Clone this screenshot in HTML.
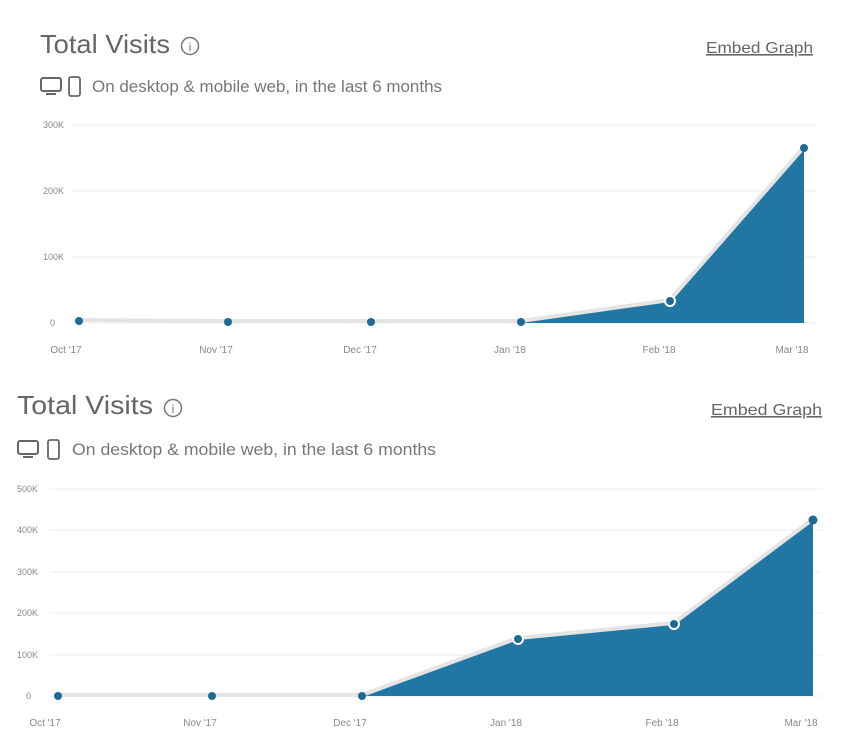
<!DOCTYPE html>
<html><head><meta charset="utf-8"><style>
body{margin:0;background:#fff;}
svg{display:block;font-family:"Liberation Sans",sans-serif;}
</style></head><body>
<svg width="846" height="755" viewBox="0 0 846 755">
<g id="c1">
<text x="40" y="53" font-size="26" fill="#666" textLength="130" lengthAdjust="spacingAndGlyphs">Total Visits</text>
<circle cx="190" cy="46" r="8.5" fill="none" stroke="#777" stroke-width="1.5"/>
<text x="190" y="51" font-size="12" fill="#777" text-anchor="middle">i</text>
<text x="706" y="53" font-size="16" fill="#666" text-decoration="underline" textLength="107" lengthAdjust="spacingAndGlyphs">Embed Graph</text>
<rect x="41" y="78" width="20" height="13" rx="2" fill="none" stroke="#666" stroke-width="2"/>
<rect x="46" y="93" width="10" height="2" fill="#666"/>
<rect x="69" y="77" width="11" height="19" rx="2" fill="none" stroke="#666" stroke-width="1.8"/>
<text x="92" y="92" font-size="16.5" fill="#777" textLength="350" lengthAdjust="spacingAndGlyphs">On desktop &amp; mobile web, in the last 6 months</text>
<g stroke="#eee" stroke-width="1"><line x1="72" y1="125" x2="816" y2="125"/><line x1="72" y1="191" x2="816" y2="191"/><line x1="72" y1="257" x2="816" y2="257"/><line x1="72" y1="323" x2="816" y2="323"/></g>
<g font-size="9" fill="#888" text-anchor="end"><text x="64" y="128">300K</text><text x="55" y="326">0</text><text x="64" y="194">200K</text><text x="64" y="260">100K</text></g>
<g font-size="10" fill="#888" text-anchor="middle"><text x="66" y="353">Oct '17</text><text x="216" y="353">Nov '17</text><text x="360" y="353">Dec '17</text><text x="510" y="353">Jan '18</text><text x="659" y="353">Feb '18</text><text x="792" y="353">Mar '18</text></g>
<polygon points="521,322 670,301 804,148 804,323 521,323" fill="#2176a3"/>
<polyline points="79,321 228,322 371,322 521,322 670,301 804,148" fill="none" stroke="#e4e4e4" stroke-width="4" transform="translate(0,-1)"/>
<g fill="#1d6a96"><circle cx="79" cy="321" r="4"/><circle cx="228" cy="322" r="4"/><circle cx="371" cy="322" r="4"/><circle cx="521" cy="322" r="4"/><circle cx="670" cy="301" r="5" stroke="#fff" stroke-width="2"/><circle cx="804" cy="148" r="4"/></g>
</g>
<g id="c2">
<text x="17" y="414" font-size="26" fill="#666" textLength="136" lengthAdjust="spacingAndGlyphs">Total Visits</text>
<circle cx="173" cy="408" r="8.5" fill="none" stroke="#777" stroke-width="1.5"/>
<text x="173" y="413" font-size="12" fill="#777" text-anchor="middle">i</text>
<text x="711" y="415" font-size="16" fill="#666" text-decoration="underline" textLength="111" lengthAdjust="spacingAndGlyphs">Embed Graph</text>
<rect x="18" y="441" width="20" height="13" rx="2" fill="none" stroke="#666" stroke-width="2"/>
<rect x="23" y="456" width="10" height="2" fill="#666"/>
<rect x="48" y="440" width="11" height="19" rx="2" fill="none" stroke="#666" stroke-width="1.8"/>
<text x="72" y="455" font-size="16.5" fill="#777" textLength="364" lengthAdjust="spacingAndGlyphs">On desktop &amp; mobile web, in the last 6 months</text>
<g stroke="#eee" stroke-width="1"><line x1="50" y1="489" x2="822" y2="489"/><line x1="50" y1="530" x2="822" y2="530"/><line x1="50" y1="572" x2="822" y2="572"/><line x1="50" y1="613" x2="822" y2="613"/><line x1="50" y1="655" x2="822" y2="655"/><line x1="50" y1="696" x2="822" y2="696"/></g>
<g font-size="9" fill="#888"><text x="17" y="492">500K</text><text x="17" y="533">400K</text><text x="17" y="575">300K</text><text x="17" y="616">200K</text><text x="17" y="658">100K</text><text x="26" y="699">0</text></g>
<g font-size="10" fill="#888" text-anchor="middle"><text x="45" y="726">Oct '17</text><text x="200" y="726">Nov '17</text><text x="350" y="726">Dec '17</text><text x="506" y="726">Jan '18</text><text x="662" y="726">Feb '18</text><text x="801" y="726">Mar '18</text></g>
<polygon points="362,696 518,639 674,624 813,520 813,696" fill="#2176a3"/>
<polyline points="58,696 212,696 362,696 518,639 674,624 813,520" fill="none" stroke="#e4e4e4" stroke-width="4" transform="translate(0,-1)"/>
<g fill="#1d6a96"><circle cx="58" cy="696" r="4"/><circle cx="212" cy="696" r="4"/><circle cx="362" cy="696" r="4"/><circle cx="518" cy="639" r="5" stroke="#fff" stroke-width="2"/><circle cx="674" cy="624" r="5" stroke="#fff" stroke-width="2"/><circle cx="813" cy="520" r="4.5"/></g>
</g>
</svg>
</body></html>
